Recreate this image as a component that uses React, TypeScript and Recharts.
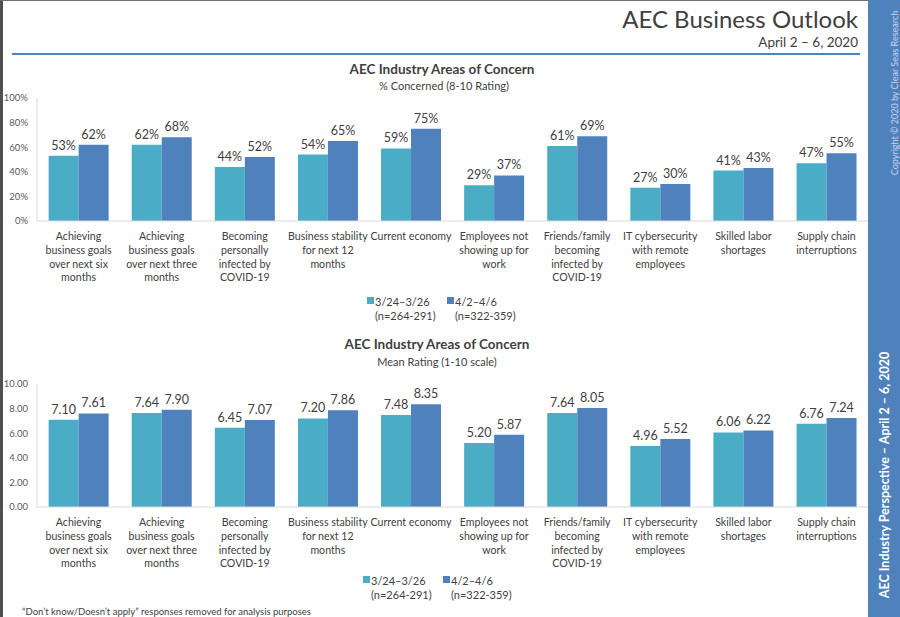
import React from 'react';
import { BarChart, Bar, XAxis, YAxis, LabelList } from 'recharts';

const categories = [
  'Achieving\nbusiness goals\nover next six\nmonths',
  'Achieving\nbusiness goals\nover next three\nmonths',
  'Becoming\npersonally\ninfected by\nCOVID-19',
  'Business stability\nfor next 12\nmonths',
  'Current economy',
  'Employees not\nshowing up for\nwork',
  'Friends/family\nbecoming\ninfected by\nCOVID-19',
  'IT cybersecurity\nwith remote\nemployees',
  'Skilled labor\nshortages',
  'Supply chain\ninterruptions',
];

const pctMarch = [53, 62, 44, 54, 59, 29, 61, 27, 41, 47];
const pctApril = [62, 68, 52, 65, 75, 37, 69, 30, 43, 55];

const meanMarch = [7.1, 7.64, 6.45, 7.2, 7.48, 5.2, 7.64, 4.96, 6.06, 6.76];
const meanApril = [7.61, 7.9, 7.07, 7.86, 8.35, 5.87, 8.05, 5.52, 6.22, 7.24];

const pctTicks = [0, 20, 40, 60, 80, 100];
const meanTicks = [0, 2, 4, 6, 8, 10];

const legendNames = ['3/24\u20133/26', '4/2\u20134/6'];
const legendNotes = ['(n=264-291)', '(n=322-359)'];

const CYAN = '#4bacc6';
const BLUE = '#4f81bd';
const FONT = 'Lato, "Open Sans", sans-serif';

const topData = categories.map((cat, i) => ({ cat, a: pctMarch[i], b: pctApril[i] }));
const bottomData = categories.map((cat, i) => ({ cat, a: meanMarch[i], b: meanApril[i] }));

const CatTick = (props: any) => {
  const { x, y, payload } = props;
  const lines = String(payload.value).split('\n');
  return (
    <text x={x} y={y + 11} textAnchor="middle" fontSize={10.6} fill="#404040" fontFamily={FONT}>
      {lines.map((l, i) => (
        <tspan key={i} x={x} dy={i === 0 ? 0 : 13.8}>{l}</tspan>
      ))}
    </text>
  );
};

const labelStyle = { fontSize: 12.5, fill: '#404040', fontFamily: FONT };

const ConcernChart = ({ data, ticks, fmt }: { data: any[]; ticks: number[]; fmt: (v: number) => string }) => (
  <BarChart
    width={868}
    height={200}
    data={data}
    margin={{ top: 8, right: 0, left: 0, bottom: 0 }}
    barCategoryGap="14%"
    barGap={0}
  >
    <XAxis
      dataKey="cat"
      interval={0}
      height={69}
      axisLine={{ stroke: '#d9d9d9' }}
      tickLine={false}
      tick={<CatTick />}
    />
    <YAxis
      width={37}
      domain={[ticks[0], ticks[ticks.length - 1]]}
      ticks={ticks}
      tickFormatter={fmt}
      axisLine={{ stroke: '#d9d9d9' }}
      tickLine={false}
      tickMargin={3}
      tick={{ fontSize: 9.5, fill: '#595959', fontFamily: FONT }}
    />
    <Bar dataKey="a" fill={CYAN} isAnimationActive={false}>
      <LabelList dataKey="a" position="top" offset={6} formatter={(v: any) => fmt(v)} style={labelStyle} />
    </Bar>
    <Bar dataKey="b" fill={BLUE} isAnimationActive={false}>
      <LabelList dataKey="b" position="top" offset={6} formatter={(v: any) => fmt(v)} style={labelStyle} />
    </Bar>
  </BarChart>
);

const Legend = ({ x, y }: { x: number; y: number }) => (
  <g fontFamily={FONT} fontSize={11} fill="#404040">
    {legendNames.map((n, i) => {
      const lx = x + i * 80;
      return (
        <g key={n}>
          <rect x={lx} y={y - 4} width={7} height={7} fill={i === 0 ? CYAN : BLUE} />
          <text x={lx + 8} y={y} dominantBaseline="central">{n}</text>
          <text x={lx + 8} y={y + 14} dominantBaseline="central">{legendNotes[i]}</text>
        </g>
      );
    })}
  </g>
);

export default function App() {
  return (
    <div style={{ position: 'absolute', left: 0, top: 0, width: 900, height: 617, background: '#fff', overflow: 'hidden' }}>
      <div style={{ position: 'absolute', left: 0, top: 0, width: 3, height: 617, background: '#505050' }} />
      <div style={{ position: 'absolute', left: 0, top: 0, width: 868, height: 1, background: '#707070' }} />
      <div style={{ position: 'absolute', left: 0, top: 90 }}>
        <ConcernChart data={topData} ticks={pctTicks} fmt={(v) => `${v}%`} />
      </div>
      <div style={{ position: 'absolute', left: 0, top: 376 }}>
        <ConcernChart data={bottomData} ticks={meanTicks} fmt={(v) => Number(v).toFixed(2)} />
      </div>
      <svg width={900} height={617} style={{ position: 'absolute', left: 0, top: 0, pointerEvents: 'none' }}>
        <g fontFamily={FONT}>
          <text x={858} y={18} textAnchor="end" dominantBaseline="central" fontSize={24} fill="#404040">AEC Business Outlook</text>
          <text x={858} y={42} textAnchor="end" dominantBaseline="central" fontSize={13.5} fill="#404040">April 2 – 6, 2020</text>
          <line x1={12} x2={860} y1={54} y2={54} stroke={BLUE} strokeWidth={2} />

          <text x={442} y={69} textAnchor="middle" dominantBaseline="central" fontSize={13.5} fontWeight="bold" fill="#404040">AEC Industry Areas of Concern</text>
          <text x={444} y={85} textAnchor="middle" dominantBaseline="central" fontSize={11} fill="#404040">% Concerned (8-10 Rating)</text>
          <Legend x={367} y={301} />

          <text x={437} y={344} textAnchor="middle" dominantBaseline="central" fontSize={13.5} fontWeight="bold" fill="#404040">AEC Industry Areas of Concern</text>
          <text x={437} y={361} textAnchor="middle" dominantBaseline="central" fontSize={11} fill="#404040">Mean Rating (1-10 scale)</text>
          <Legend x={363} y={580} />

          <text x={22} y={611} dominantBaseline="central" fontSize={9.5} fill="#404040">“Don’t know/Doesn’t apply” responses removed for analysis purposes</text>

          <rect x={868} y={0} width={32} height={617} fill={BLUE} />
          <text transform="translate(894,93) rotate(-90)" textAnchor="middle" dominantBaseline="central" fontSize={9} fill="#c9d6ea">Copyright © 2020 by Clear Seas Research</text>
          <text transform="translate(884,475) rotate(-90)" textAnchor="middle" dominantBaseline="central" fontSize={12.5} fontWeight="bold" fill="#ffffff">AEC Industry Perspective – April 2 – 6, 2020</text>
        </g>
      </svg>
    </div>
  );
}
